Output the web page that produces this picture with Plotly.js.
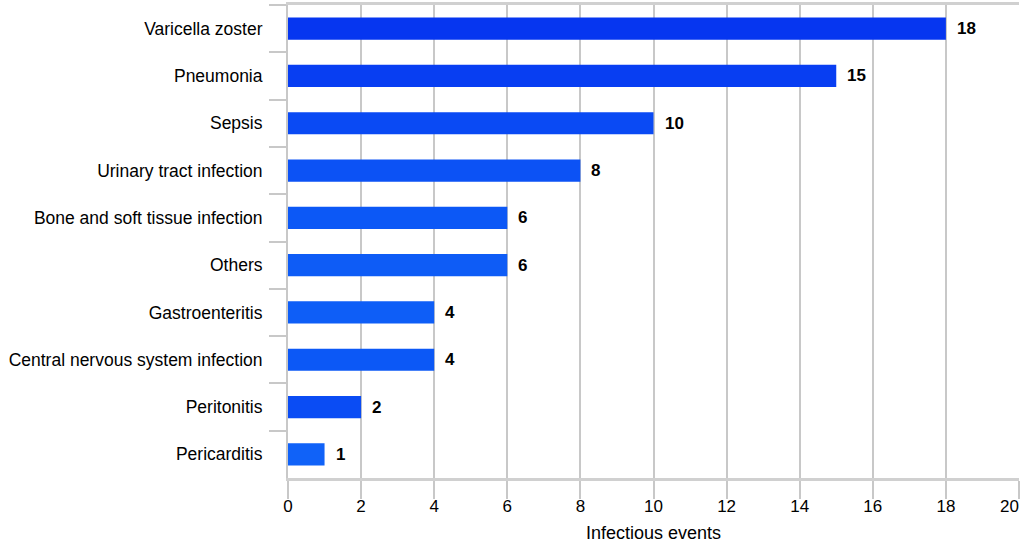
<!DOCTYPE html>
<html>
<head>
<meta charset="utf-8">
<script src="https://cdn.plot.ly/plotly-3.0.1.min.js"></script>
<style>html,body{margin:0;padding:0;background:#fff;}#chart{width:1026px;height:544px;}</style>
</head>
<body>
<div id="chart"></div>
<script>
const categories = ["Varicella zoster","Pneumonia","Sepsis","Urinary tract infection","Bone and soft tissue infection","Others","Gastroenteritis","Central nervous system infection","Peritonitis","Pericarditis"];
const values = [18,15,10,8,6,6,4,4,2,1];
const barColors = ["#0636f0","#083ef2","#0a4af4","#0c52f5","#0c58f6","#0e5cf6","#0e5ef7","#0c58f6","#0a4cf4","#1062f8"];
const xTicks = [0,2,4,6,8,10,12,14,16,18,20];

const FONT = "Liberation Sans, Arial, sans-serif";
const lastTick = xTicks[xTicks.length - 1];

const trace = {
  type: "bar",
  orientation: "h",
  y: categories,
  x: values,
  width: 0.47,
  marker: {color: barColors, line: {width: 0}},
  hoverinfo: "none"
};

const annotations = categories.map((c, i) => ({
  x: values[i], y: c, xref: "x", yref: "y",
  text: String(values[i]), showarrow: false,
  xanchor: "left", xshift: 9,
  font: {family: FONT, size: 17, color: "#000", weight: "bold"}
}));
// last x tick label placed inside the page edge, as in the reference
annotations.push({
  x: lastTick, y: 0, xref: "x", yref: "paper",
  text: String(lastTick), showarrow: false,
  xanchor: "right", yanchor: "top", yshift: -17, xshift: 2,
  font: {family: FONT, size: 17, color: "#000"}
});

const layout = {
  width: 1026, height: 544,
  margin: {l: 288, r: 7, t: 5, b: 66},
  paper_bgcolor: "#fff", plot_bgcolor: "#fff",
  showlegend: false,
  font: {family: FONT, size: 17, color: "#000"},
  annotations: annotations,
  xaxis: {
    range: [0, 20],
    tickvals: xTicks,
    ticktext: xTicks.map(v => v === lastTick ? "" : String(v)),
    showgrid: true, gridcolor: "#c8c8c8", gridwidth: 2,
    zeroline: false,
    showline: true, linecolor: "#d0d0d0", linewidth: 3, mirror: true,
    ticks: "outside", ticklen: 18, tickcolor: "#c8c8c8", tickwidth: 2,
    tickfont: {size: 17},
    ticklabelstandoff: -7,
    title: {text: "Infectious events", font: {size: 18}, standoff: 11}
  },
  yaxis: {
    type: "category",
    autorange: "reversed",
    showgrid: false,
    zeroline: false,
    showline: true, linecolor: "#c8c8c8", linewidth: 2,
    ticks: "outside", tickson: "boundaries", ticklen: 17, tickcolor: "#c8c8c8", tickwidth: 2,
    tickfont: {size: 17.5},
    ticklabelstandoff: 20
  },
  bargap: 0.53
};

Plotly.newPlot("chart", [trace], layout, {staticPlot: true, displayModeBar: false});
</script>
</body>
</html>
